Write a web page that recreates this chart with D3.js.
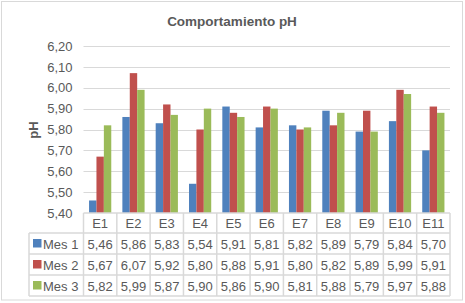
<!DOCTYPE html>
<html><head><meta charset="utf-8">
<script src="https://cdn.jsdelivr.net/npm/d3@7"></script>
<style>body{margin:0;background:#fff}svg{display:block;font-family:"Liberation Sans",Arial,sans-serif}</style>
</head><body>
<script>
const categories = ["E1","E2","E3","E4","E5","E6","E7","E8","E9","E10","E11"];
const seriesNames = ["Mes 1","Mes 2","Mes 3"];
const mes1 = [5.46,5.86,5.83,5.54,5.91,5.81,5.82,5.89,5.79,5.84,5.70];
const mes2 = [5.67,6.07,5.92,5.80,5.88,5.91,5.80,5.82,5.89,5.99,5.91];
const mes3 = [5.82,5.99,5.87,5.90,5.86,5.90,5.81,5.88,5.79,5.97,5.88];
const yTicks = [5.40,5.50,5.60,5.70,5.80,5.90,6.00,6.10,6.20];
const colors = ["#4F81BD","#C0504D","#9BBB59"];
const series = [mes1, mes2, mes3];

(function(){
const W = 465, H = 303;
const svg = d3.select("body").append("svg").attr("width", W).attr("height", H);
const txt = "#595959", grid = "#D9D9D9";

svg.append("rect").attr("x",1.5).attr("y",1.5).attr("width",461).attr("height",298.5)
  .attr("fill","#fff").attr("stroke","#D9D9D9").attr("stroke-width",1);

svg.append("text").attr("x",232).attr("y",25.5).attr("text-anchor","middle")
  .attr("font-size",13.5).attr("font-weight","bold").attr("fill",txt).text("Comportamiento pH");

const pLeft = 83.5, pRight = 450, pTop = 46, pBottom = 213;
const x = d3.scaleBand().domain(categories).range([pLeft, pRight]);
const y = d3.scaleLinear().domain([5.4, 6.2]).range([pBottom, pTop]);
const bw = x.bandwidth() / 4.5;
const gap = x.bandwidth() * 0.75 / 4.5;

svg.append("g").selectAll("line").data(yTicks.slice(1)).join("line")
  .attr("x1",pLeft).attr("x2",pRight).attr("y1",d=>Math.round(y(d))+0.5).attr("y2",d=>Math.round(y(d))+0.5)
  .attr("stroke",grid).attr("stroke-width",1);

const yAxis = d3.axisLeft(y).tickValues(yTicks).tickFormat(d=>d3.format(".2f")(d).replace(".",",")).tickSize(0).tickPadding(11);
const ga = svg.append("g").attr("transform",`translate(${pLeft},0)`).call(yAxis);
ga.select(".domain").remove();
ga.selectAll("text").attr("font-size",13).attr("fill",txt).attr("font-family","Liberation Sans, Arial, sans-serif");

svg.append("text").attr("transform","translate(38,130) rotate(-90)").attr("text-anchor","middle")
  .attr("font-size",13).attr("font-weight","bold").attr("fill",txt).text("pH");

series.forEach((vals, si) => {
  svg.append("g").selectAll("rect").data(vals).join("rect")
    .attr("x",(d,i)=>x(categories[i]) + gap + si*bw)
    .attr("width",bw)
    .attr("y",d=>y(d)).attr("height",d=>pBottom - y(d))
    .attr("fill",colors[si]);
});

const rowH = [20, 21, 21, 21];
const rowY = [pBottom];
for (let i=0;i<rowH.length;i++) rowY.push(rowY[i]+rowH[i]);
const legL = 29;
const tb = svg.append("g").attr("stroke",grid).attr("stroke-width",1.5);
rowY.forEach((yy,i)=>{
  tb.append("line").attr("x1", i===0 ? pLeft : legL).attr("x2",pRight).attr("y1",yy).attr("y2",yy);
});
const xLines = categories.map(c=>x(c)).concat([pRight]);
xLines.forEach(xx=>tb.append("line").attr("x1",xx).attr("x2",xx).attr("y1",pBottom).attr("y2",rowY[4]));
tb.append("line").attr("x1",legL).attr("x2",legL).attr("y1",rowY[1]).attr("y2",rowY[4]);

svg.append("g").selectAll("text").data(categories).join("text")
  .attr("x",d=>x(d)+x.bandwidth()/2).attr("y",rowY[0]+15).attr("text-anchor","middle")
  .attr("font-size",13).attr("fill",txt).text(d=>d);

series.forEach((vals, si) => {
  const ry = rowY[si+1];
  svg.append("rect").attr("x",33).attr("y",ry+6).attr("width",8.5).attr("height",8.5).attr("fill",colors[si]);
  svg.append("text").attr("x",43).attr("y",ry+15.5).attr("font-size",13).attr("fill",txt).text(seriesNames[si]);
  svg.append("g").selectAll("text").data(vals).join("text")
    .attr("x",(d,i)=>x(categories[i])+x.bandwidth()/2).attr("y",ry+15.5).attr("text-anchor","middle")
    .attr("font-size",13).attr("fill",txt).text(d=>d3.format(".2f")(d).replace(".",","));
});
})();
</script>
</body></html>
